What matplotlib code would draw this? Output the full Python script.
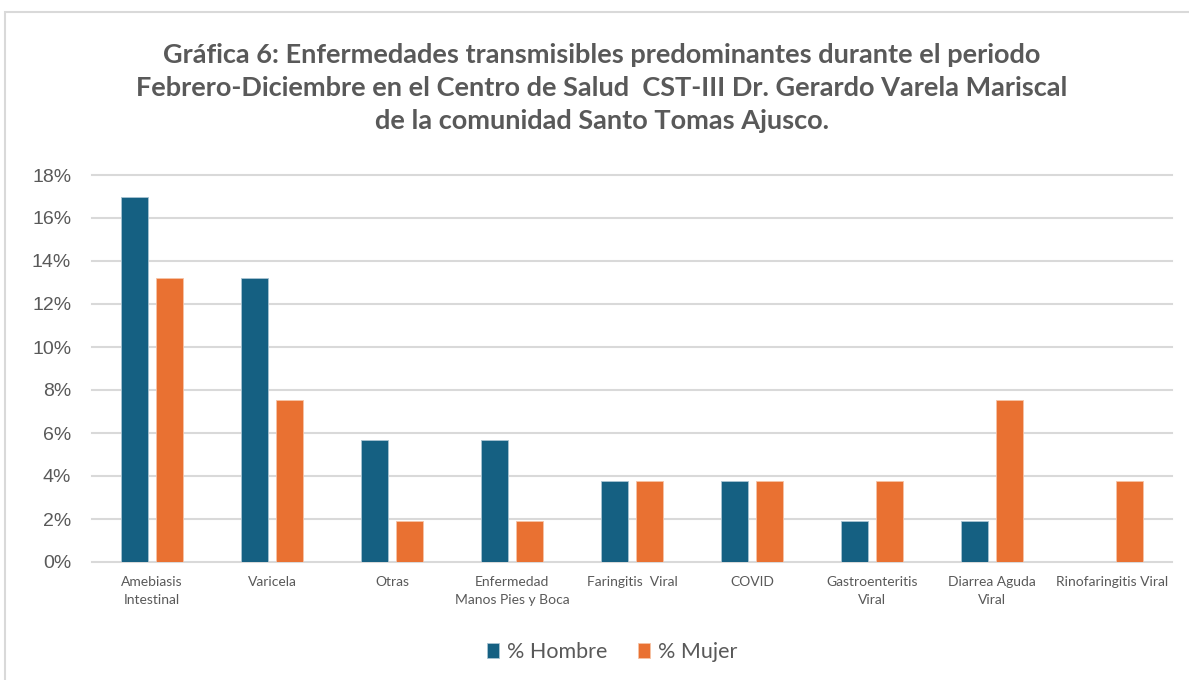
import numpy as np
import matplotlib
import matplotlib.pyplot as plt
from matplotlib.patches import Rectangle
from matplotlib.ticker import PercentFormatter

matplotlib.use('Agg')

# datos
categorias = ["Amebiasis\nIntestinal", "Varicela", "Otras", "Enfermedad\nManos Pies y Boca",
              "Faringitis  Viral", "COVID", "Gastroenteritis\nViral", "Diarrea Aguda\nViral",
              "Rinofaringitis Viral"]
pct_hombre = [0.1698, 0.1321, 0.0566, 0.0566, 0.0377, 0.0377, 0.0189, 0.0189, 0.0]
pct_mujer = [0.1321, 0.0755, 0.0189, 0.0189, 0.0377, 0.0377, 0.0377, 0.0755, 0.0377]

titulo = ("Gráfica 6: Enfermedades transmisibles predominantes durante el periodo\n"
          "Febrero-Diciembre en el Centro de Salud  CST-III Dr. Gerardo Varela Mariscal\n"
          "de la comunidad Santo Tomas Ajusco.")

AZUL = "#156082"
NARANJA = "#E97132"
GRIS = "#595959"
LATO = ["Lato", "DejaVu Sans"]
ARIAL = ["Liberation Sans", "DejaVu Sans"]

fig = plt.figure(figsize=(11.89, 6.8), dpi=100)
# marco del área de gráfico
fig.patches.append(Rectangle((5 / 1189, -0.01), 1.02, 1 - 12 / 680 + 0.01,
                             transform=fig.transFigure, fill=False,
                             edgecolor="#D9D9D9", linewidth=1.5))

ax = fig.add_axes([92 / 1189, 1 - 562 / 680, 1080 / 1189, 387 / 680])

x = np.arange(len(categorias))
ancho = 0.225
ax.bar(x - 0.146, pct_hombre, ancho, color=AZUL, edgecolor="#A9C4D2", linewidth=0.6,
       label="% Hombre", zorder=3)
ax.bar(x + 0.146, pct_mujer, ancho, color=NARANJA, edgecolor="#F6C3A6", linewidth=0.6,
       label="% Mujer", zorder=3)

ax.set_xlim(-0.5, len(categorias) - 0.5)
ax.set_ylim(0, 0.18)
ax.set_yticks(np.arange(0, 0.181, 0.02))
ax.yaxis.set_major_formatter(PercentFormatter(1.0, decimals=0))
ax.grid(axis="y", color="#D9D9D9", linewidth=1.5, zorder=0)
for g in ax.get_ygridlines():
    g.set_clip_on(False)
for s in ax.spines.values():
    s.set_visible(False)
ax.tick_params(axis="both", length=0, colors=GRIS)
ax.tick_params(axis="y", pad=15)
for t in ax.get_yticklabels():
    t.set_fontfamily(ARIAL)
    t.set_fontsize(14)
ax.set_xticks(x)
ax.set_xticklabels(categorias, fontsize=10, family=LATO, color=GRIS, linespacing=1.65)
ax.tick_params(axis="x", pad=10)

fig.text(0.506, 1 - 88 / 680, titulo, ha="center", va="center", fontsize=19.5,
         fontweight="bold", family=LATO, color=GRIS, linespacing=1.45)

fig.legend(loc="center", bbox_to_anchor=(0.515, 1 - 652 / 680), ncol=2, frameon=False,
           prop={"family": LATO, "size": 15.5}, labelcolor=GRIS,
           handlelength=0.55, handleheight=0.7, handletextpad=0.4, columnspacing=1.4)

fig.savefig("out.png", dpi=100)
